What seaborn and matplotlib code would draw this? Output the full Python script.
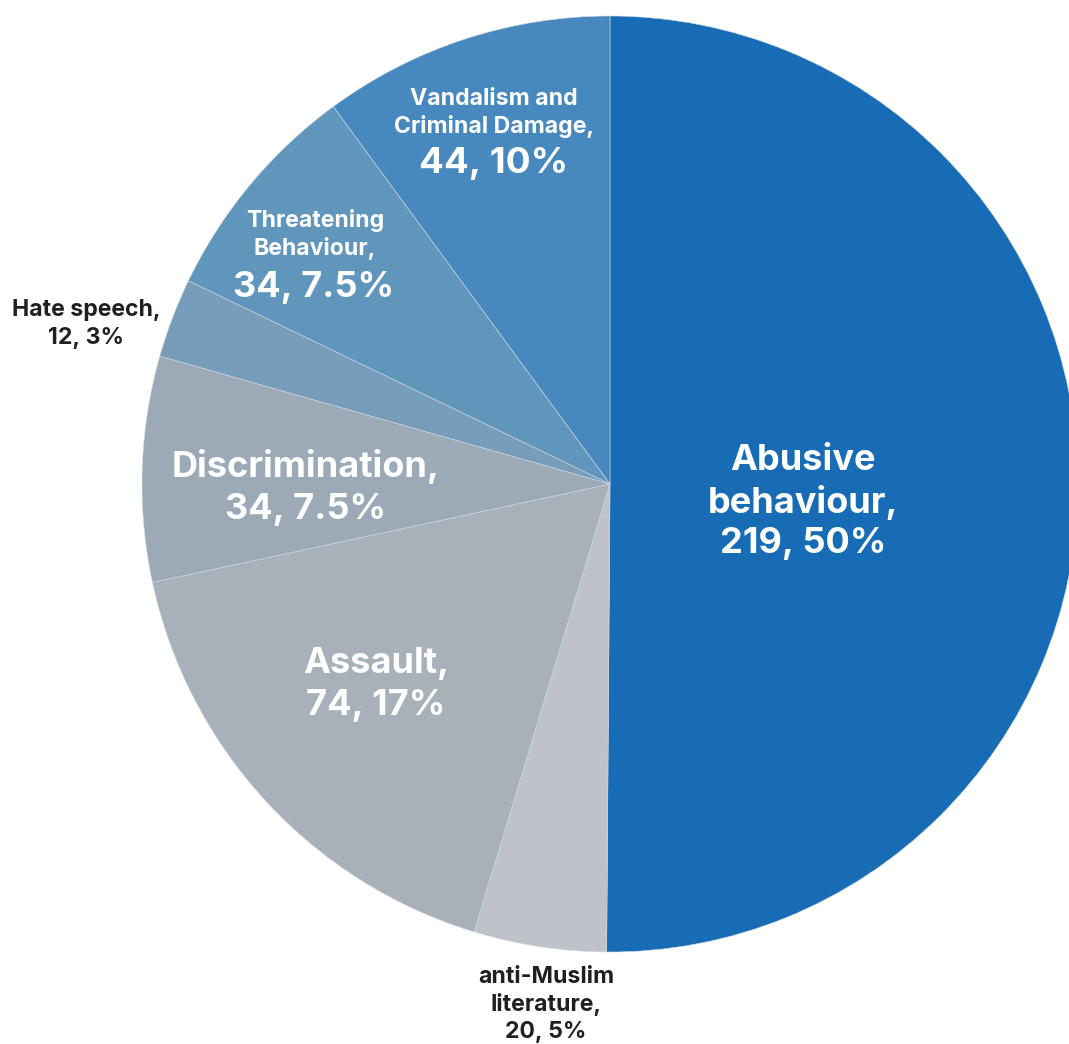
import matplotlib
matplotlib.use("Agg")
import matplotlib.pyplot as plt
import seaborn as sns

categories = ["Abusive behaviour", "anti-Muslim literature", "Assault", "Discrimination",
              "Hate speech", "Threatening Behaviour", "Vandalism and Criminal Damage"]
counts = [219, 20, 74, 34, 12, 34, 44]
pct_labels = ["50%", "5%", "17%", "7.5%", "3%", "7.5%", "10%"]
colors = ["#176cb5", "#bfc3c9", "#a8b0b9", "#9caab8", "#789dba", "#6095bc", "#4789bf"]

sns.set_theme(style="white")
plt.rcParams["font.family"] = ["Inter", "DejaVu Sans"]

W, H = 1069, 1044
CX, CY, R = 610, 484, 468

fig = plt.figure(figsize=(W / 100, H / 100), dpi=100)
ax = fig.add_axes([0, 0, 1, 1])
ax.pie(counts, colors=colors, startangle=90, counterclock=False,
       wedgeprops=dict(edgecolor="#cfd9e4", linewidth=0.4))
ax.set_xlim((0 - CX) / R, (W - CX) / R)
ax.set_ylim((CY - H) / R, (CY - 0) / R)
ax.set_aspect("auto")
ax.axis("off")


def px(x, y):
    return (x - CX) / R, (CY - y) / R


def put(x, y, s, size, color="white"):
    dx, dy = px(x, y)
    ax.text(dx, dy, s, ha="center", va="center", fontsize=size, color=color,
            fontweight="bold", linespacing=1.05)


BIG, SMALL = 26, 16.6

# Large labels
put(803, 461, "Abusive", BIG)
put(803, 502, "behaviour,", BIG)
put(803, 543, f"{counts[0]}, {pct_labels[0]}", BIG)
put(376, 663, "Assault,", BIG)
put(376, 705, f"{counts[2]}, {pct_labels[2]}", BIG)
put(306, 467, "Discrimination,", BIG)
put(306, 509, f"{counts[3]}, {pct_labels[3]}", BIG)

# Vandalism
put(494, 99, "Vandalism and", SMALL)
put(494, 127, "Criminal Damage,", SMALL)
put(494, 163, f"{counts[6]}, {pct_labels[6]}", BIG + 0.5)

# Threatening
put(315, 221, "Threatening", SMALL)
put(315, 249, "Behaviour,", SMALL)
put(314, 287, f"{counts[5]}, {pct_labels[5]}", BIG)

# Outside labels
dark = "#231f20"
put(86, 310, "Hate speech,", SMALL, dark)
put(86, 338, f"{counts[4]}, {pct_labels[4]}", SMALL, dark)
put(546, 977, "anti-Muslim", SMALL, dark)
put(546, 1004, "literature,", SMALL, dark)
put(546, 1032, f"{counts[1]}, {pct_labels[1]}", SMALL, dark)

fig.savefig("out.png", dpi=100)
